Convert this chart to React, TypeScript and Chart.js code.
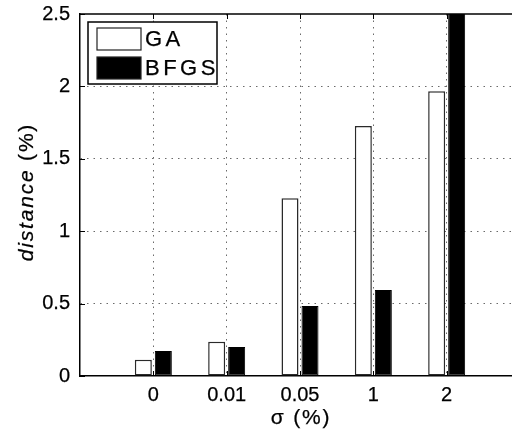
import { useEffect, useRef } from 'react';
import { Chart, registerables } from 'chart.js';

Chart.register(...registerables);

// Noise level categories and mean distance per optimiser
const sigmaLabels = ['0', '0.01', '0.05', '1', '2'];
const gaDistance = [0.113, 0.237, 1.227, 1.727, 1.966];
const bfgsDistance = [0.173, 0.2, 0.483, 0.594, 2.9];
const yTickValues = [0, 0.5, 1, 1.5, 2, 2.5];
const seriesNames = ['GA', 'BFGS'];

const FONT = '"Liberation Sans", Arial, Helvetica, sans-serif';
const CANVAS_W = 520;
const CANVAS_H = 436;
const TEXT_STROKE = 0.25;

// Strip the automatic label padding so the plot box sits exactly where the layout puts it
const noScalePadding = (scale: any) => {
  scale.paddingTop = 0;
  scale.paddingBottom = 0;
  scale.paddingLeft = 0;
  scale.paddingRight = 0;
};

// Fill text and give it a hairline outline so it reads a little heavier
const drawText = (ctx: CanvasRenderingContext2D, text: string, x: number, y: number) => {
  ctx.fillText(text, x, y);
  ctx.lineWidth = TEXT_STROKE;
  ctx.strokeStyle = '#000';
  ctx.strokeText(text, x, y);
};

// Axis frame, inward tick marks, axis titles and the boxed legend
const decorPlugin = {
  id: 'decor',
  afterDatasetsDraw(chart: any) {
    const { ctx, chartArea: a, scales } = chart;
    ctx.save();
    ctx.strokeStyle = '#000';
    ctx.lineWidth = 1.5;
    ctx.beginPath();
    ctx.moveTo(a.left, a.top);
    ctx.lineTo(a.right, a.top);
    ctx.stroke();

    ctx.lineWidth = 1;
    const len = 5;
    for (let i = 1; i <= sigmaLabels.length; i++) {
      const px = Math.round(scales.x.getPixelForTick(i)) + 0.5;
      ctx.beginPath();
      ctx.moveTo(px, a.bottom);
      ctx.lineTo(px, a.bottom - len);
      ctx.moveTo(px, a.top);
      ctx.lineTo(px, a.top + len);
      ctx.stroke();
    }
    for (const v of yTickValues) {
      const py = Math.round(scales.y.getPixelForValue(v)) + 0.5;
      ctx.beginPath();
      ctx.moveTo(a.left, py);
      ctx.lineTo(a.left + len, py);
      ctx.stroke();
    }
    ctx.restore();
  },
  afterDraw(chart: any) {
    const { ctx, chartArea: a } = chart;
    ctx.save();
    ctx.fillStyle = '#000';
    ctx.textBaseline = 'middle';

    // y-axis title: italic "distance" followed by upright " (%)"
    ctx.save();
    ctx.translate(27, (a.top + a.bottom) / 2 - 3);
    ctx.rotate(-Math.PI / 2);
    (ctx as any).letterSpacing = '1.8px';
    const italicFont = `italic 21px ${FONT}`;
    const normalFont = `21px ${FONT}`;
    ctx.font = italicFont;
    const w1 = ctx.measureText('distance').width;
    ctx.font = normalFont;
    const w2 = ctx.measureText(' (%)').width;
    const x0 = -(w1 + w2) / 2;
    ctx.textAlign = 'left';
    ctx.font = italicFont;
    drawText(ctx, 'distance', x0, 0);
    ctx.font = normalFont;
    drawText(ctx, ' (%)', x0 + w1, 0);
    ctx.restore();

    // x-axis title
    ctx.save();
    (ctx as any).letterSpacing = '1.8px';
    ctx.font = `21px ${FONT}`;
    ctx.textAlign = 'center';
    drawText(ctx, 'σ (%)', (a.left + a.right) / 2 + 1, 418);
    ctx.restore();

    // legend
    const lx = a.left + 8;
    const ly = a.top + 8;
    ctx.save();
    ctx.fillStyle = '#fff';
    ctx.fillRect(lx, ly, 129, 62);
    ctx.strokeStyle = '#000';
    ctx.lineWidth = 1.5;
    ctx.strokeRect(lx, ly, 129, 62);
    const colors = ['#fff', '#000'];
    seriesNames.forEach((name, i) => {
      const sy = ly + 6 + i * 29;
      ctx.fillStyle = colors[i];
      ctx.fillRect(lx + 9, sy, 44, 22);
      ctx.strokeStyle = '#222';
      ctx.lineWidth = 1.2;
      ctx.strokeRect(lx + 9, sy, 44, 22);
      ctx.fillStyle = '#000';
      (ctx as any).letterSpacing = '3.5px';
      ctx.font = `22px ${FONT}`;
      ctx.textAlign = 'left';
      drawText(ctx, name, lx + 57, sy + 12);
    });
    ctx.restore();

    ctx.restore();
  },
};

export default function App() {
  const canvasRef = useRef<HTMLCanvasElement | null>(null);

  useEffect(() => {
    const canvas = canvasRef.current;
    if (!canvas) return;
    // empty slot on each side of the five noise levels
    const labels = ['', ...sigmaLabels, ''];
    const chart = new Chart(canvas, {
      type: 'bar',
      data: {
        labels,
        datasets: [
          {
            label: seriesNames[0],
            data: [null, ...gaDistance, null],
            backgroundColor: '#ffffff',
            borderColor: '#2a2a2a',
            borderWidth: 1.5,
            borderSkipped: false,
            categoryPercentage: 0.5455,
            barPercentage: 0.85,
          },
          {
            label: seriesNames[1],
            data: [null, ...bfgsDistance, null],
            backgroundColor: '#000000',
            borderColor: '#000000',
            borderWidth: 1,
            borderSkipped: false,
            categoryPercentage: 0.5455,
            barPercentage: 0.85,
          },
        ],
      },
      options: {
        responsive: false,
        animation: false,
        devicePixelRatio: 1,
        layout: { padding: { top: 14, left: 0, right: 0, bottom: 0 } },
        plugins: {
          legend: { display: false },
          title: { display: false },
          tooltip: { enabled: false },
        },
        scales: {
          x: {
            type: 'category',
            offset: false,
            afterFit: (scale: any) => {
              scale.height = 60;
              noScalePadding(scale);
            },
            grid: {
              offset: false,
              drawTicks: false,
              lineWidth: 1,
              color: (c: any) =>
                c.index === 0 || c.index === labels.length - 1 ? 'rgba(0,0,0,0)' : '#6a6a6a',
            },
            border: { display: true, color: '#000', width: 1.5, dash: [1.5, 5] },
            ticks: {
              color: '#000',
              textStrokeColor: '#000',
              textStrokeWidth: TEXT_STROKE,
              font: { family: FONT, size: 20 },
              padding: 7,
              maxRotation: 0,
              autoSkip: false,
            },
          },
          y: {
            min: yTickValues[0],
            max: yTickValues[yTickValues.length - 1],
            afterFit: (scale: any) => {
              scale.width = 80;
              noScalePadding(scale);
            },
            grid: {
              drawTicks: false,
              lineWidth: 1,
              color: (c: any) =>
                c.tick.value === yTickValues[0] ||
                c.tick.value === yTickValues[yTickValues.length - 1]
                  ? 'rgba(0,0,0,0)'
                  : '#6a6a6a',
            },
            border: { display: true, color: '#000', width: 1.5, dash: [1.5, 5] },
            ticks: {
              stepSize: 0.5,
              color: '#000',
              textStrokeColor: '#000',
              textStrokeWidth: TEXT_STROKE,
              font: { family: FONT, size: 20 },
              padding: 10,
              callback: (v: any) => String(v),
            },
          },
        },
      },
      plugins: [decorPlugin],
    });
    return () => chart.destroy();
  }, []);

  return (
    <div
      style={{
        position: 'fixed',
        left: 0,
        top: 0,
        width: 512,
        height: 436,
        overflow: 'hidden',
        background: '#fff',
      }}
    >
      <canvas ref={canvasRef} width={CANVAS_W} height={CANVAS_H} style={{ display: 'block' }} />
    </div>
  );
}
